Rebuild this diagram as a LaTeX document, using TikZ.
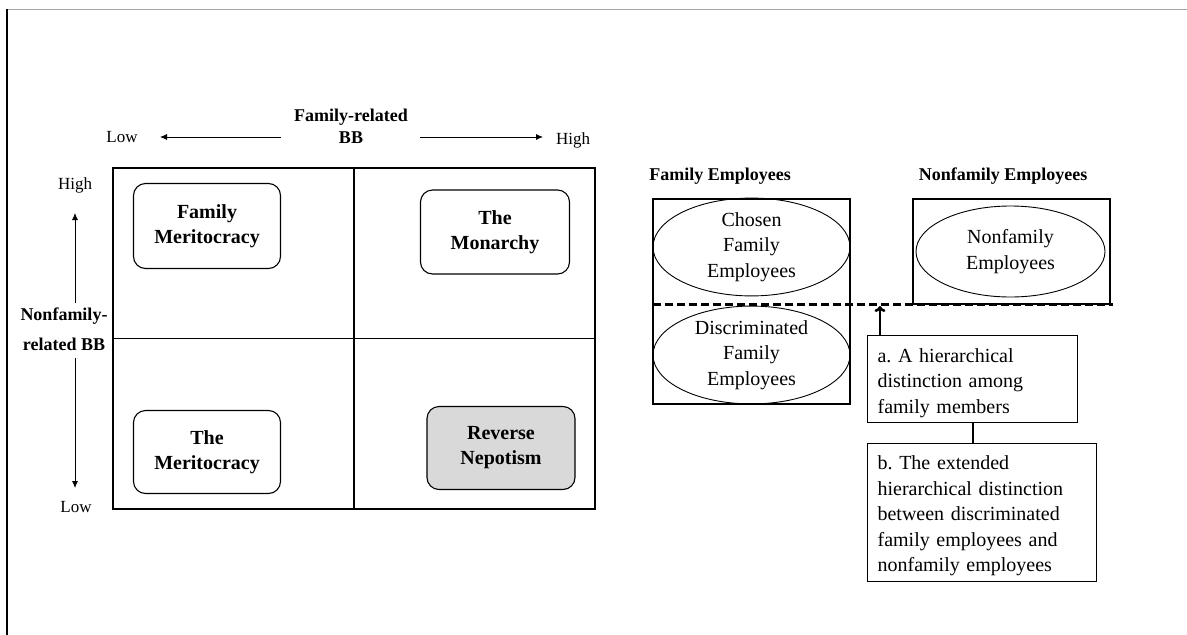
\documentclass[tikz,border=0pt]{standalone}
\usepackage{fontspec}
\setmainfont{Liberation Serif}
\usetikzlibrary{arrows.meta,shapes.geometric}
\frenchspacing
\begin{document}
\begin{tikzpicture}[x=1pt,y=-1pt,
  ax/.style={font=\fontsize{17}{20}\selectfont, inner sep=0pt},
  axb/.style={font=\bfseries\fontsize{18}{30}\selectfont, align=center, inner sep=0pt},
  quad/.style={draw, line width=1.1pt, rounded corners=12pt, align=center,
    font=\bfseries\fontsize{20}{25}\selectfont, inner sep=0pt},
  thinarrow/.style={line width=0.8pt, -{Latex[length=7pt,width=6pt]}},
  ell/.style={draw, ellipse, line width=0.9pt, inner sep=0pt, align=center,
    font=\fontsize{20}{25.5}\selectfont},
  plain/.style={draw, line width=1.2pt, inner sep=0pt},
  txtbox/.style={draw, line width=1.2pt, align=left, anchor=north west,
    inner xsep=10pt, inner ysep=0pt, font=\fontsize{20}{25.5}\selectfont},
  hdr/.style={font=\bfseries\fontsize{18}{22}\selectfont, inner sep=0pt}
]
\useasboundingbox (0,0) rectangle (1187,635);
% frame
\coordinate (ftl) at (7,9);
\coordinate (ftr) at (1187,9);
\coordinate (fbl) at (7,635);
\draw[gray!70, line width=0.8pt] (ftl) -- (ftr);
\draw[black, line width=1.3pt] (ftl) -- (fbl);

% top axis
\node[axb, font=\bfseries\fontsize{18}{22}\selectfont] (fr) at (351,126) {Family-related\\BB};
\node[ax] (lowx) at (122,137) {Low};
\node[ax] (highx) at (573,140) {High};
\coordinate (fl) at (281,137);
\coordinate (flt) at (160,137);
\coordinate (frr) at (420,137);
\coordinate (frt) at (543,137);
\draw[thinarrow] (fl) -- (flt);
\draw[thinarrow] (frr) -- (frt);

% left axis
\node[axb] (nf) at (64,329) {Nonfamily-\\related BB};
\node[ax] (highy) at (75,185) {High};
\node[ax] (lowy) at (76,507) {Low};
\coordinate (nu) at (75,303);
\coordinate (nut) at (75,213);
\coordinate (nd) at (75,358);
\coordinate (ndt) at (75,488);
\draw[thinarrow] (nu) -- (nut);
\draw[thinarrow] (nd) -- (ndt);

% grid
\node[plain, minimum width=482pt, minimum height=341pt] (grid) at (354,338.5) {};
\draw[line width=1.2pt] (grid.north) -- (grid.south);
\draw[line width=1.2pt] (grid.west) -- (grid.east);

\node[quad, minimum width=147pt, minimum height=85pt] (fm) at (207,226) {Family\\Meritocracy};
\node[quad, minimum width=149pt, minimum height=84pt] (mon) at (495,232) {The\\Monarchy};
\node[quad, minimum width=147pt, minimum height=83pt] (mer) at (207,452) {The\\Meritocracy};
\node[quad, fill=gray!30, minimum width=148pt, minimum height=83pt] (rn) at (501,448) {Reverse\\Nepotism};

% right part
\node[hdr] (fe) at (720,176) {Family Employees};
\node[hdr] (nfe) at (1003,176) {Nonfamily Employees};

\node[plain, minimum width=197pt, minimum height=205pt] (lbox) at (751.5,301.5) {};
\node[plain, minimum width=197pt, minimum height=105pt] (rbox) at (1011.5,251.5) {};

\node[ell, minimum width=197pt, minimum height=86pt] (cho) at (751.5,247) {Chosen\\Family\\Employees};
\node[ell, minimum width=197pt, minimum height=84pt] (dis) at (751.5,355) {Discriminated\\Family\\Employees};
\node[ell, minimum width=189pt, minimum height=91pt] (nfel) at (1010.5,251.5) {Nonfamily\\Employees};

\coordinate (dl) at (653,304);
\coordinate (dr) at (1113,304);
\draw[line width=3pt, dash pattern=on 8pt off 4pt] (dl) -- (dr);

\node[txtbox, minimum width=210pt, minimum height=87pt, text width=190pt] (ba) at (867,335)
  {\rule{0pt}{22pt}a. A hierarchical\\distinction among\\family members};
\node[txtbox, minimum width=229pt, minimum height=138pt, text width=209pt] (bb) at (867,443)
  {\rule{0pt}{21pt}b. The extended\\hierarchical distinction\\between discriminated\\family employees and\\nonfamily employees};

\coordinate (at) at (880,306);
\draw[line width=2.6pt, -{To[length=6pt,width=11pt]}] (ba.north west -| at) -- (at);
\draw[line width=2.8pt] (ba.south west -| 973,0) -- (bb.north west -| 973,0);
\end{tikzpicture}
\end{document}
